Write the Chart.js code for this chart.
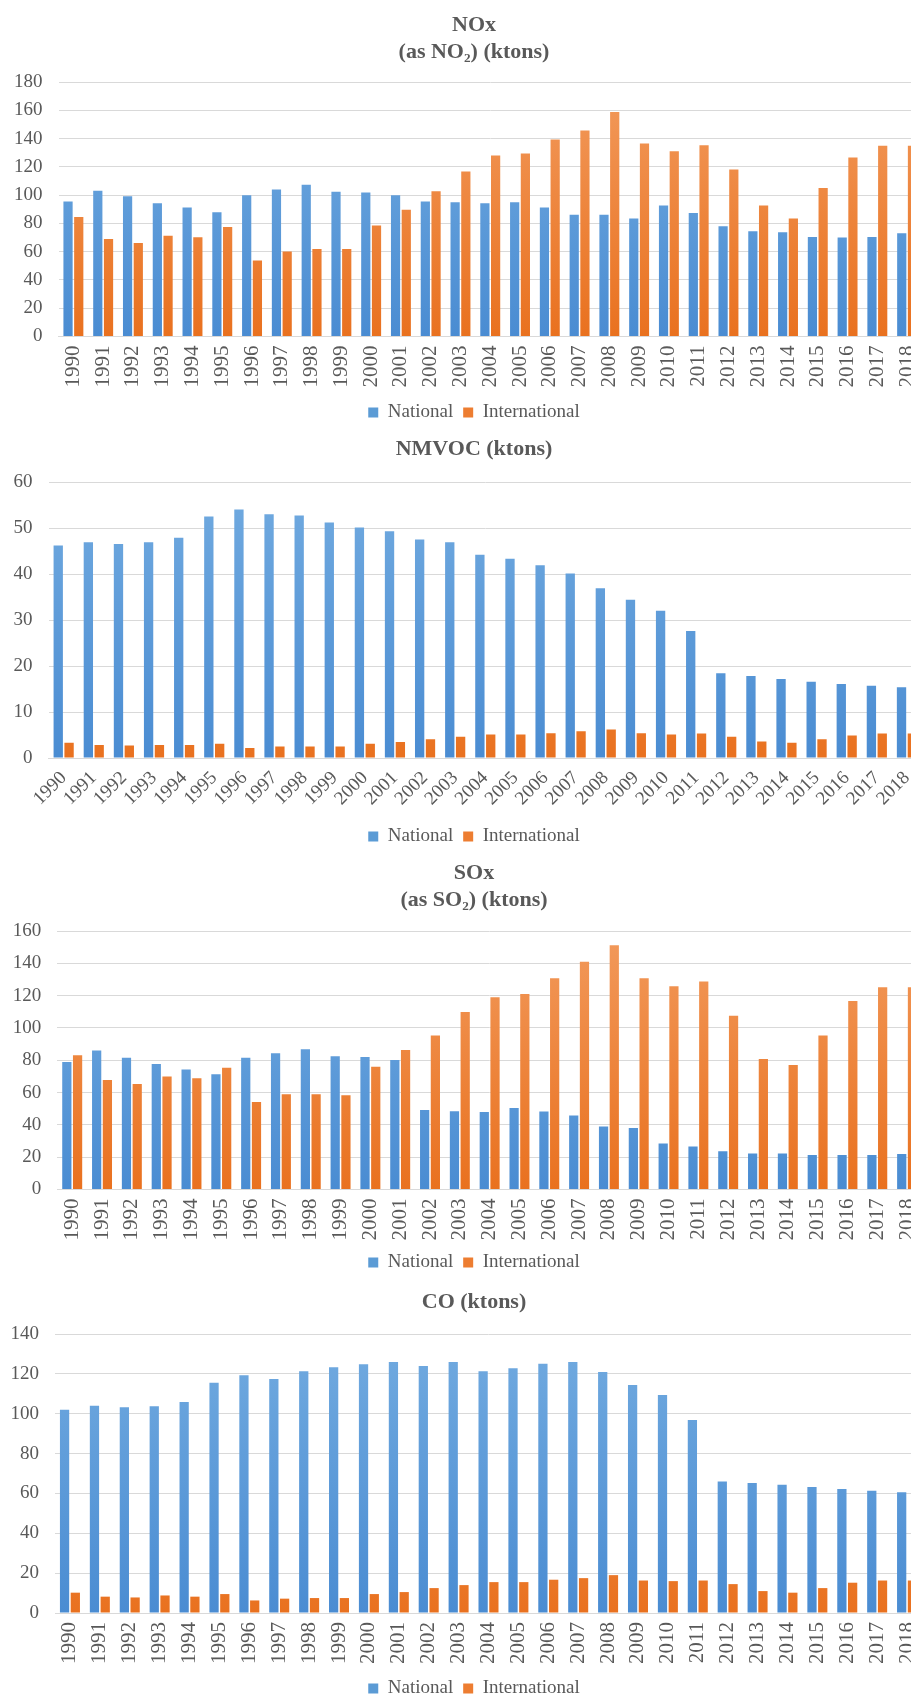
<!DOCTYPE html>
<html>
<head>
<meta charset="utf-8">
<script src="https://cdn.jsdelivr.net/npm/chart.js@4"></script>
<style>
  html, body { margin: 0; padding: 0; background: #fff; width: 911px; height: 1700px; overflow: hidden; }
  .box { position: absolute; left: 0; width: 948px; }
</style>
</head>
<body>
<div class="box" style="top:0px;height:432px"><canvas id="noxChart"></canvas></div>
<div class="box" style="top:425px;height:431px"><canvas id="nmvocChart"></canvas></div>
<div class="box" style="top:850px;height:432px"><canvas id="soxChart"></canvas></div>
<div class="box" style="top:1276px;height:432px"><canvas id="coChart"></canvas></div>
<script>
var years = ['1990','1991','1992','1993','1994','1995','1996','1997','1998','1999','2000','2001','2002','2003','2004',
  '2005','2006','2007','2008','2009','2010','2011','2012','2013','2014','2015','2016','2017','2018'];

var noxNational = [95.5,103.0,99.2,94.3,91.2,87.9,99.9,104.0,107.3,102.3,101.8,99.9,95.5,95.0,94.3,
  95.0,91.2,86.1,86.1,83.4,92.6,87.4,78.0,74.5,73.7,70.4,70.0,70.4,73.0];
var noxInternational = [84.6,69.0,66.2,71.2,70.2,77.5,53.7,60.1,61.9,61.9,78.5,89.6,102.8,116.7,128.0,
  129.4,139.3,145.7,158.7,136.5,131.1,135.3,118.1,92.6,83.4,105.1,126.6,134.9,134.9];

var nmvocNational = [46.2,46.9,46.5,46.9,47.9,52.5,54.0,53.0,52.7,51.2,50.1,49.3,47.5,46.9,44.2,
  43.3,41.9,40.1,36.9,34.4,32.0,27.6,18.4,17.8,17.2,16.6,16.1,15.7,15.4];
var nmvocInternational = [3.3,2.8,2.7,2.8,2.8,3.1,2.2,2.5,2.5,2.5,3.1,3.5,4.1,4.6,5.1,
  5.1,5.4,5.8,6.2,5.4,5.1,5.3,4.6,3.6,3.3,4.1,4.9,5.3,5.3];

var soxNational = [78.9,86.0,81.6,77.7,74.2,71.3,81.6,84.3,86.8,82.5,82.0,80.2,49.2,48.5,47.9,
  50.4,48.3,45.8,39.0,38.0,28.5,26.6,23.6,22.3,22.3,21.3,21.3,21.3,21.9];
var soxInternational = [83.1,67.8,65.3,69.9,68.8,75.4,54.2,58.9,58.9,58.3,75.9,86.4,95.3,109.9,119.0,
  121.0,130.8,140.9,151.2,130.8,125.8,128.7,107.6,80.8,77.1,95.3,116.7,125.2,125.2];

var coNational = [102.0,104.0,103.2,103.7,105.9,115.6,119.3,117.4,121.3,123.3,124.8,126.0,124.0,126.0,121.3,
  122.8,125.1,126.0,120.9,114.4,109.4,96.8,66.0,65.2,64.4,63.2,62.2,61.4,60.6];
var coInternational = [10.2,8.2,7.8,8.8,8.2,9.5,6.3,7.2,7.5,7.5,9.5,10.5,12.5,14.0,15.5,
  15.5,16.7,17.5,19.0,16.3,16.0,16.3,14.5,11.0,10.2,12.5,15.2,16.3,16.3];

var seriesNames = ['National', 'International'];

var BLUE = '#5b9bd5', ORANGE = '#ed7d31';
var TEXT = '#595959', GRID = '#d9d9d9';
var SERIF = "'Liberation Serif', 'Times New Roman', serif";

// excel-ish vertical gradient on the bars
function barFill(top, bottom) {
  return function(ctx) {
    var area = ctx.chart.chartArea;
    if (!area) return bottom;
    var g = ctx.chart.ctx.createLinearGradient(0, area.top, 0, area.bottom);
    g.addColorStop(0, top);
    g.addColorStop(1, bottom);
    return g;
  };
}

function makeChart(id, opt) {
  var ctx = document.getElementById(id).getContext('2d');
  return new Chart(ctx, {
    type: 'bar',
    data: {
      labels: years,
      datasets: [
        { label: seriesNames[0], data: opt.national, backgroundColor: barFill('#72abe0', '#4a8cd2'),
          categoryPercentage: 0.72, barPercentage: 0.86 },
        { label: seriesNames[1], data: opt.international, backgroundColor: barFill('#f29a5c', '#e9711f'),
          categoryPercentage: 0.72, barPercentage: 0.86 }
      ]
    },
    options: {
      responsive: true,
      maintainAspectRatio: false,
      animation: false,
      layout: { padding: 0 },
      plugins: {
        title: {
          display: true,
          text: opt.title,
          color: TEXT,
          font: { family: SERIF, size: 22, weight: 'bold', lineHeight: 27 / 22 },
          padding: opt.titlePad
        },
        legend: {
          position: 'bottom',
          labels: {
            color: TEXT,
            font: { family: SERIF, size: 19 },
            boxWidth: 10,
            boxHeight: 10,
            padding: 10,
            generateLabels: function(chart) {
              return chart.data.datasets.map(function(ds, i) {
                var c = i === 0 ? BLUE : ORANGE;
                return { text: ds.label, fillStyle: c, strokeStyle: c, lineWidth: 0, datasetIndex: i, fontColor: TEXT };
              });
            }
          }
        },
        tooltip: { enabled: false }
      },
      scales: {
        x: {
          grid: { display: false, drawTicks: false },
          border: { display: true, color: GRID },
          ticks: {
            color: TEXT,
            font: { family: SERIF, size: opt.xFont },
            minRotation: opt.rotation,
            maxRotation: opt.rotation,
            autoSkip: false,
            padding: 9
          },
          afterFit: function(s) { s.height = opt.xHeight; }
        },
        y: {
          min: 0,
          max: opt.max,
          grid: { color: GRID, drawTicks: false },
          border: { display: false },
          ticks: {
            stepSize: opt.step,
            color: TEXT,
            font: { family: SERIF, size: 19 },
            padding: 16
          },
          afterFit: function(s) { s.width = opt.left; }
        },
        // empty right axis, only to keep the margin right of the plot
        y2: {
          position: 'right',
          display: true,
          grid: { display: false, drawTicks: false },
          border: { display: false },
          ticks: { display: false },
          afterFit: function(s) { s.width = 26; }
        }
      }
    }
  });
}

makeChart('noxChart', {
  title: ['NOx', '(as NO\u2082) (ktons)'], national: noxNational, international: noxInternational,
  max: 180, step: 20, rotation: 90, xFont: 21, left: 58.5, xHeight: 56.5,
  titlePad: { top: 11.5, bottom: 16.5 }
});
makeChart('nmvocChart', {
  title: 'NMVOC (ktons)', national: nmvocNational, international: nmvocInternational,
  max: 60, step: 10, rotation: 45, xFont: 19, left: 48.6, xHeight: 59,
  titlePad: { top: 10.5, bottom: 19.5 }
});
makeChart('soxChart', {
  title: ['SOx', '(as SO\u2082) (ktons)'], national: soxNational, international: soxInternational,
  max: 160, step: 20, rotation: 90, xFont: 21, left: 57.3, xHeight: 53.5,
  titlePad: { top: 9.5, bottom: 17.5 }
});
makeChart('coChart', {
  title: 'CO (ktons)', national: coNational, international: coInternational,
  max: 140, step: 20, rotation: 90, xFont: 21, left: 55, xHeight: 56,
  titlePad: { top: 12.5, bottom: 18.5 }
});
</script>
</body>
</html>
